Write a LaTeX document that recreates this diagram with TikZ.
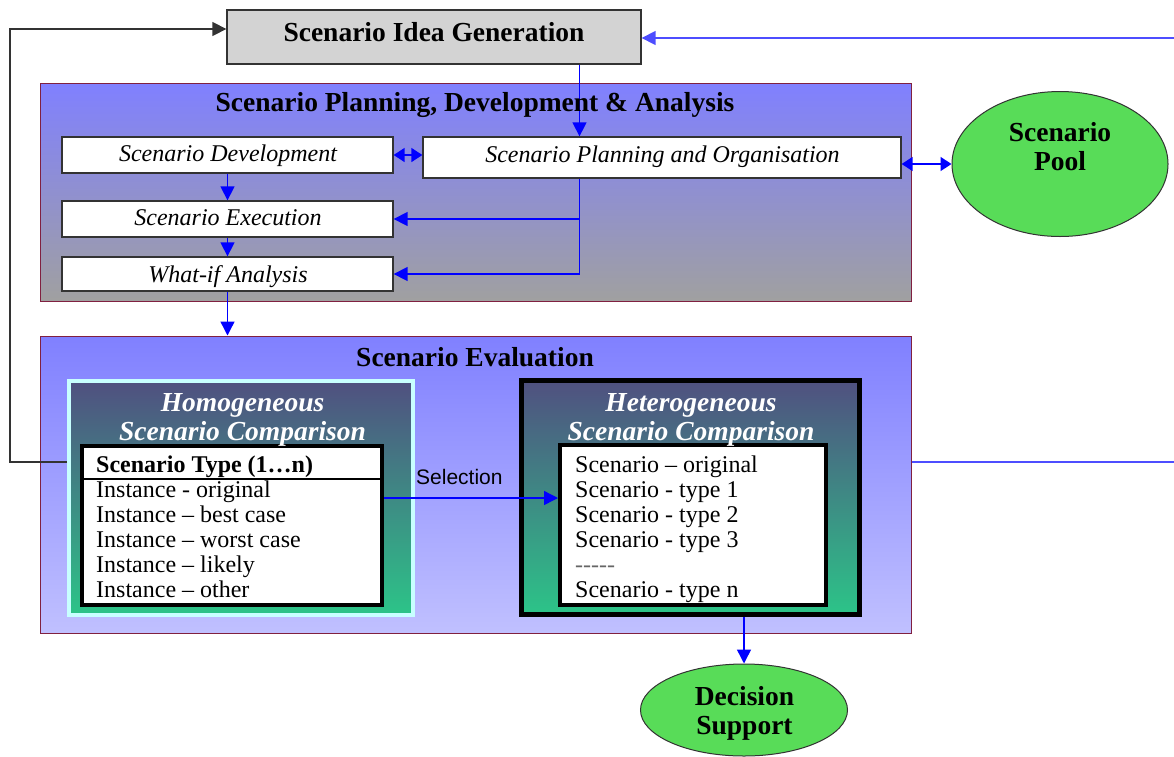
\documentclass[tikz,border=0pt]{standalone}
\usepackage{fontspec}
\setmainfont{Liberation Serif}
\newfontfamily\selfont{Liberation Sans}
\usetikzlibrary{arrows.meta,shapes.geometric}
\definecolor{ptop}{HTML}{8080FF}
\definecolor{pgray}{HTML}{A0A0A0}
\definecolor{plav}{HTML}{C0C0FF}
\definecolor{gtop}{HTML}{505080}
\definecolor{gbot}{HTML}{2CC488}
\definecolor{cyanb}{HTML}{C8FFFF}
\definecolor{pgreen}{HTML}{58DC58}
\definecolor{lgray}{HTML}{D3D3D3}
\definecolor{maroon}{HTML}{802040}
\definecolor{lblue}{HTML}{4D4DFF}
\begin{document}
\begin{tikzpicture}[x=1pt,y=-1pt]
\tikzset{
  ttl/.style={inner sep=0pt, text height=18pt, text depth=0pt, font=\fontsize{27.5}{30}\selectfont\bfseries},
  wttl/.style={ttl, text=white, font=\fontsize{27.5}{30}\selectfont\bfseries\itshape},
  itl/.style={inner sep=0pt, text height=15.7pt, text depth=0pt, font=\fontsize{24}{26}\selectfont\itshape},
  itm/.style={inner sep=0pt, text height=15.7pt, text depth=0pt, anchor=west, font=\fontsize{24}{26}\selectfont},
  wbox/.style={draw=black!80, line width=1.3pt, fill=white, inner sep=0pt},
  panel/.style={draw=maroon, line width=1pt, inner sep=0pt},
  gbox/.style={top color=gtop, bottom color=gbot, inner sep=0pt},
  inbox/.style={draw=black, line width=4pt, fill=white, inner sep=0pt},
  oval/.style={ellipse, draw=black!80, line width=1pt, fill=pgreen, inner sep=0pt},
  barr/.style={draw=blue, line width=1.4pt, -{Triangle[length=14pt,width=14pt]}},
  bdarr/.style={draw=blue, line width=1.4pt, {Triangle[length=11pt,width=14pt]}-{Triangle[length=11pt,width=14pt]}},
  bline/.style={draw=blue, line width=1.4pt},
  lbarr/.style={draw=lblue, line width=1.4pt, -{Triangle[length=14pt,width=14pt]}},
  lbline/.style={draw=lblue, line width=1.4pt},
  karr/.style={draw=black!80, line width=1.4pt, -{Triangle[length=14pt,width=14pt]}}
}
\fill[white] (0,0) rectangle (1174,756);
\useasboundingbox (0,0) rectangle (1174,756);

% panels
\node[panel, top color=ptop, bottom color=pgray, minimum width=871pt, minimum height=218pt] (plan) at (475.5,192) {};
\node[panel, top color=ptop, bottom color=plav, minimum width=871pt, minimum height=297pt] (evalp) at (475.5,484.5) {};

% idea box
\node[draw=black!80, line width=1.3pt, fill=lgray, inner sep=0pt, minimum width=414pt, minimum height=54pt] (idea) at (434,37) {};

% planning boxes
\node[wbox, minimum width=331pt, minimum height=36pt] (dev) at (227.5,155) {};
\node[wbox, minimum width=478pt, minimum height=41pt] (plo) at (662,157.5) {};
\node[wbox, minimum width=331pt, minimum height=36pt] (exe) at (227.5,219) {};
\node[wbox, minimum width=331pt, minimum height=34pt] (wif) at (227.5,274) {};

% evaluation boxes
\node[gbox, draw=cyanb, line width=4pt, minimum width=344pt, minimum height=234pt] (homog) at (241,498) {};
\node[gbox, draw=black, line width=5pt, minimum width=338pt, minimum height=234pt] (heter) at (690,497.5) {};
\node[inbox, minimum width=300pt, minimum height=159pt] (hin) at (232,525.5) {};
\node[inbox, minimum width=266pt, minimum height=160pt] (tin) at (693,525) {};
\coordinate (sep) at (0,479);
\draw[line width=1.3pt] (hin.west |- sep) -- (hin.east |- sep);

% ovals
\node[oval, minimum width=216pt, minimum height=145pt] (pool) at (1060,164) {};
\node[oval, minimum width=207pt, minimum height=92pt] (dec) at (744,710) {};

% connectors
\coordinate (xa) at (579.5,0);
\coordinate (xd) at (744,0);
\coordinate (ysel) at (0,498);
\coordinate (tr) at (1174,38);
\coordinate (rr) at (1174,462);
\coordinate (k1) at (10,462);
\coordinate (k2) at (10,29);
\draw[barr] (idea.south -| xa) -- (plo.north -| xa);
\draw[bdarr] (dev.east) -- (plo.west |- dev.east);
\draw[barr] (dev.south) -- (exe.north);
\draw[barr] (exe.south) -- (wif.north);
\draw[barr] (plo.south -| xa) |- (wif.east);
\draw[barr] (xa |- exe.east) -- (exe.east);
\draw[barr] (wif.south) -- (wif.south |- evalp.north);
\draw[bdarr] (plo.east |- pool.west) -- (pool.west);
\draw[lbarr] (tr) -- (idea.east |- tr);
\draw[lbline] (evalp.east |- rr) -- (rr);
\draw[karr] (homog.west |- k1) -- (k1) -- (k2) -- (idea.west |- k2);
\draw[barr] (hin.east |- ysel) -- (tin.west |- ysel);
\draw[barr] (heter.south -| xd) -- (dec.north);

% texts
\node[ttl] (tidea) at (434,32.5) {Scenario Idea Generation};
\node[ttl] (tplan) at (475,102) {Scenario Planning, Development \& Analysis};
\node[itl] (tdev) at (228,154) {Scenario Development};
\node[itl] (tplo) at (662.5,154.5) {Scenario Planning and Organisation};
\node[itl] (texe) at (228,217.5) {Scenario Execution};
\node[itl] (twif) at (228,274.5) {What-if Analysis};
\node[ttl] (teval) at (475,357) {Scenario Evaluation};
\node[wttl] (th1) at (242.5,402.5) {Homogeneous};
\node[wttl] (th2) at (242.5,431) {Scenario Comparison};
\node[wttl] (tt1) at (691,402.5) {Heterogeneous};
\node[wttl] (tt2) at (691,431) {Scenario Comparison};
\node[itm, font=\fontsize{24}{26}\selectfont\bfseries] (h0) at (96,464.5) {Scenario Type (1…n)};
\node[itm] (h1) at (96,489.5) {Instance - original};
\node[itm] (h2) at (96,514.5) {Instance – best case};
\node[itm] (h3) at (96,539.5) {Instance – worst case};
\node[itm] (h4) at (96,564.5) {Instance – likely};
\node[itm] (h5) at (96,589.5) {Instance – other};
\node[itm] (s0) at (575,464.5) {Scenario – original};
\node[itm] (s1) at (575,489.5) {Scenario - type 1};
\node[itm] (s2) at (575,514.5) {Scenario - type 2};
\node[itm] (s3) at (575,539.5) {Scenario - type 3};
\node[itm, text=black!60] (s4) at (575,564.5) {-{}-{}-{}-{}-};
\node[itm] (s5) at (575,589.5) {Scenario - type n};
\node[inner sep=0pt, text height=15pt, text depth=0pt, anchor=west, font=\selfont\fontsize{21}{24}\selectfont] (tsel) at (416,476.5) {Selection};
\node[ttl] (tp1) at (1060,132.5) {Scenario};
\node[ttl] (tp2) at (1060,161.5) {Pool};
\node[ttl] (td1) at (744.5,696.5) {Decision};
\node[ttl] (td2) at (744.5,725) {Support};
\end{tikzpicture}
\end{document}
